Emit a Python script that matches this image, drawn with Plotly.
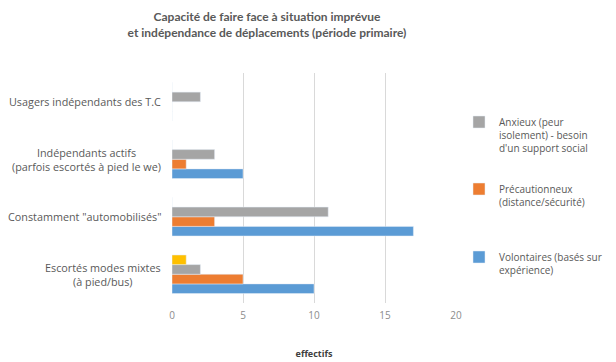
import plotly.graph_objects as go

categories = [
    "Escortés modes mixtes<br>(à pied/bus)",
    "Constamment \"automobilisés\"",
    "Indépendants actifs<br>(parfois escortés à pied le we)",
    "Usagers indépendants des T.C",
]
volontaires = [10, 17, 5, 0]
precautionneux = [5, 3, 1, 0]
anxieux = [2, 11, 3, 2]
autre = [1, 0, 0, 0]

names = {
    "volontaires": "Volontaires (basés sur<br>expérience)",
    "precautionneux": "Précautionneux<br>(distance/sécurité)",
    "anxieux": "Anxieux (peur<br>isolement) - besoin<br>d'un support social",
}

FONT = "'Open Sans', Lato, sans-serif"
TEXT = "#595959"

# the page has an 8px body margin: figure coords = screen coords - 8,
# and the figure is shrunk by 8px so the page does not overflow the window
W, H = 608, 354
L, R, T, B = 164, 0, 65, 59
paper_w = W - L - R
paper_h = H - T - B
plot_w = 448 - L


def legend_at(top_px):
    return dict(x=(451 - L) / paper_w, xanchor="left",
                y=1 - (top_px - T) / paper_h, yanchor="top",
                valign="top", itemwidth=30, bgcolor="rgba(0,0,0,0)",
                font=dict(size=10, color=TEXT, family=FONT))


fig = go.Figure()
fig.add_trace(go.Bar(y=categories, x=volontaires, orientation="h", name=names["volontaires"],
                     marker_color="#5B9BD5", legend="legend3"))
fig.add_trace(go.Bar(y=categories, x=precautionneux, orientation="h", name=names["precautionneux"],
                     marker_color="#ED7D31", legend="legend2"))
fig.add_trace(go.Bar(y=categories, x=anxieux, orientation="h", name=names["anxieux"],
                     marker_color="#A5A5A5", legend="legend"))
fig.add_trace(go.Bar(y=categories, x=autre, orientation="h", name="",
                     marker_color="#FFC000", showlegend=False))

# category labels, centred line by line like the original
for cat in categories:
    fig.add_annotation(x=0, xref="paper", xanchor="right", xshift=-9,
                       y=cat, yref="y", yanchor="middle", align="center",
                       text=cat, showarrow=False,
                       font=dict(size=10.8, color=TEXT, family=FONT))

fig.update_layout(
    width=W, height=H,
    margin=dict(l=L, r=R, t=T, b=B),
    paper_bgcolor="white", plot_bgcolor="white",
    font=dict(family=FONT, size=10, color=TEXT),
    title=dict(
        text="<b>Capacité de faire face à situation imprévue<br>et indépendance de déplacements (période primaire)</b>",
        x=259 / W, xanchor="center", xref="container",
        y=1 - 13 / H, yanchor="top", yref="container",
        font=dict(size=12, color=TEXT, family="Lato, sans-serif"),
    ),
    barmode="group", bargap=0.33, bargroupgap=0,
    showlegend=True,
    legend=legend_at(101),
    legend2=legend_at(168),
    legend3=legend_at(236),
    xaxis=dict(domain=[0, plot_w / paper_w], range=[0, 20], dtick=5,
               showgrid=True, gridcolor="#D9D9D9", automargin=False,
               zeroline=False, showline=False, ticks="", ticklabelstandoff=5,
               tickfont=dict(color="#8C8C8C", size=10),
               title=dict(text="<b>effectifs</b>", font=dict(size=9, color="#404040"), standoff=29)),
    yaxis=dict(categoryorder="array", categoryarray=categories, showgrid=False,
               zeroline=False, showline=False, ticks="", showticklabels=False,
               automargin=False),
)

fig.write_html("out.html")
